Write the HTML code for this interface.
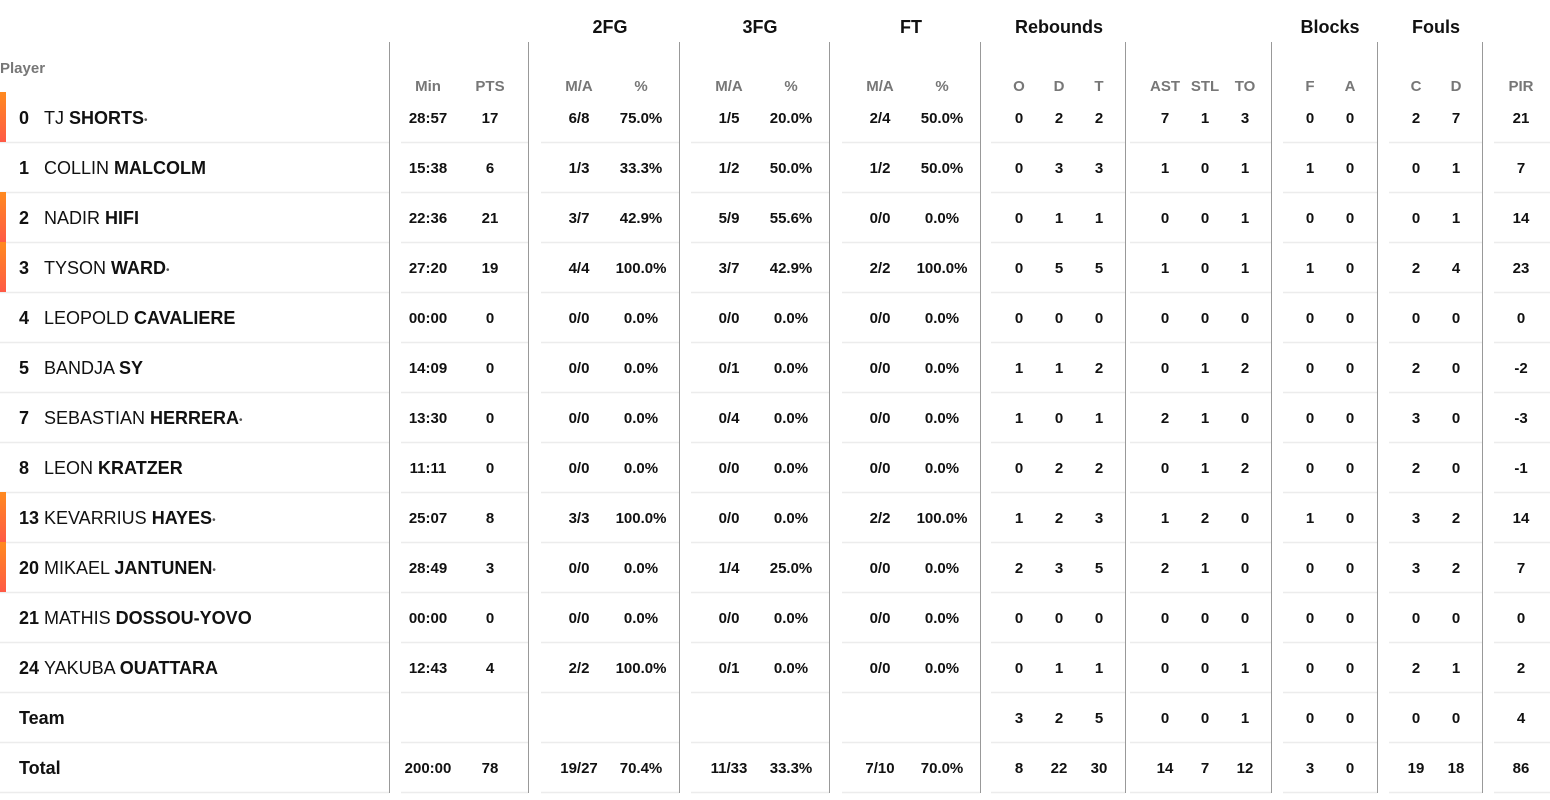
<!DOCTYPE html>
<html><head><meta charset="utf-8"><style>
body{margin:0;width:1550px;height:800px;background:#fff;font-family:"Liberation Sans",sans-serif;color:#111;position:relative;overflow:hidden}
.a{position:absolute}
.gh{position:absolute;top:17px;font-size:18px;font-weight:bold;transform:translateX(-50%);white-space:nowrap}
.sh{position:absolute;top:78px;font-size:15px;font-weight:bold;color:#777;transform:translateX(-50%)}
.r{position:absolute;left:0;width:1550px;height:50px;line-height:54px;font-size:15px;font-weight:bold}
.r span{position:absolute;transform:translateX(-50%);white-space:nowrap}
.r .n{left:19px;transform:none;font-size:18px;line-height:52px}
.r .nm{left:44px;transform:none;font-size:18px;font-weight:normal;line-height:52px}
.r .nm b{font-weight:bold}
.bar{position:absolute;left:0;top:0;width:6px;height:50px;background:linear-gradient(#ff8a1f,#ff5a45)}
.m{left:428px}.p{left:490px}.a1{left:579px}.b1{left:641px}.c1{left:729px}.d1{left:791px}.e1{left:880px}.f1{left:942px}
.o{left:1019px}.rd{left:1059px}.t{left:1099px}.as{left:1165px}.st{left:1205px}.to{left:1245px}.bf{left:1310px}.ba{left:1350px}.fc{left:1416px}.fd{left:1456px}.pi{left:1521px}
sup{font-size:10px;color:#555;vertical-align:1px}
</style></head><body>
<svg class="a" style="left:0;top:0" width="1550" height="800">
<g stroke="#ececec" stroke-width="1.5" stroke-dasharray="389 12 127 13 138 12 138 13 138 11 134 5 141 12 94 12 93 12 60">
<line x1="0" x2="1550" y1="142.5" y2="142.5"/><line x1="0" x2="1550" y1="192.5" y2="192.5"/><line x1="0" x2="1550" y1="242.5" y2="242.5"/><line x1="0" x2="1550" y1="292.5" y2="292.5"/><line x1="0" x2="1550" y1="342.5" y2="342.5"/><line x1="0" x2="1550" y1="392.5" y2="392.5"/><line x1="0" x2="1550" y1="442.5" y2="442.5"/><line x1="0" x2="1550" y1="492.5" y2="492.5"/><line x1="0" x2="1550" y1="542.5" y2="542.5"/><line x1="0" x2="1550" y1="592.5" y2="592.5"/><line x1="0" x2="1550" y1="642.5" y2="642.5"/><line x1="0" x2="1550" y1="692.5" y2="692.5"/><line x1="0" x2="1550" y1="742.5" y2="742.5"/><line x1="0" x2="1550" y1="792.5" y2="792.5"/>
</g>
<g stroke="#999" stroke-width="1">
<line x1="389.5" x2="389.5" y1="42" y2="793"/><line x1="528.5" x2="528.5" y1="42" y2="793"/><line x1="679.5" x2="679.5" y1="42" y2="793"/><line x1="829.5" x2="829.5" y1="42" y2="793"/><line x1="980.5" x2="980.5" y1="42" y2="793"/><line x1="1125.5" x2="1125.5" y1="42" y2="793"/><line x1="1271.5" x2="1271.5" y1="42" y2="793"/><line x1="1377.5" x2="1377.5" y1="42" y2="793"/><line x1="1482.5" x2="1482.5" y1="42" y2="793"/>
</g></svg>
<div class="gh" style="left:610px">2FG</div><div class="gh" style="left:760px">3FG</div><div class="gh" style="left:911px">FT</div><div class="gh" style="left:1059px">Rebounds</div><div class="gh" style="left:1330px">Blocks</div><div class="gh" style="left:1436px">Fouls</div>
<div class="a" style="left:0;top:60px;font-size:15px;font-weight:bold;color:#777">Player</div>
<div class="sh m">Min</div><div class="sh p">PTS</div><div class="sh a1">M/A</div><div class="sh b1">%</div><div class="sh c1">M/A</div><div class="sh d1">%</div><div class="sh e1">M/A</div><div class="sh f1">%</div><div class="sh o">O</div><div class="sh rd">D</div><div class="sh t">T</div><div class="sh as">AST</div><div class="sh st">STL</div><div class="sh to">TO</div><div class="sh bf">F</div><div class="sh ba">A</div><div class="sh fc">C</div><div class="sh fd">D</div><div class="sh pi">PIR</div>

<div class="r" style="top:92px"><div class="bar"></div><span class="n">0</span><span class="nm">TJ <b>SHORTS</b><sup>•</sup></span><span class="m">28:57</span><span class="p">17</span><span class="a1">6/8</span><span class="b1">75.0%</span><span class="c1">1/5</span><span class="d1">20.0%</span><span class="e1">2/4</span><span class="f1">50.0%</span><span class="o">0</span><span class="rd">2</span><span class="t">2</span><span class="as">7</span><span class="st">1</span><span class="to">3</span><span class="bf">0</span><span class="ba">0</span><span class="fc">2</span><span class="fd">7</span><span class="pi">21</span></div>
<div class="r" style="top:142px"><span class="n">1</span><span class="nm">COLLIN <b>MALCOLM</b></span><span class="m">15:38</span><span class="p">6</span><span class="a1">1/3</span><span class="b1">33.3%</span><span class="c1">1/2</span><span class="d1">50.0%</span><span class="e1">1/2</span><span class="f1">50.0%</span><span class="o">0</span><span class="rd">3</span><span class="t">3</span><span class="as">1</span><span class="st">0</span><span class="to">1</span><span class="bf">1</span><span class="ba">0</span><span class="fc">0</span><span class="fd">1</span><span class="pi">7</span></div>
<div class="r" style="top:192px"><div class="bar"></div><span class="n">2</span><span class="nm">NADIR <b>HIFI</b></span><span class="m">22:36</span><span class="p">21</span><span class="a1">3/7</span><span class="b1">42.9%</span><span class="c1">5/9</span><span class="d1">55.6%</span><span class="e1">0/0</span><span class="f1">0.0%</span><span class="o">0</span><span class="rd">1</span><span class="t">1</span><span class="as">0</span><span class="st">0</span><span class="to">1</span><span class="bf">0</span><span class="ba">0</span><span class="fc">0</span><span class="fd">1</span><span class="pi">14</span></div>
<div class="r" style="top:242px"><div class="bar"></div><span class="n">3</span><span class="nm">TYSON <b>WARD</b><sup>•</sup></span><span class="m">27:20</span><span class="p">19</span><span class="a1">4/4</span><span class="b1">100.0%</span><span class="c1">3/7</span><span class="d1">42.9%</span><span class="e1">2/2</span><span class="f1">100.0%</span><span class="o">0</span><span class="rd">5</span><span class="t">5</span><span class="as">1</span><span class="st">0</span><span class="to">1</span><span class="bf">1</span><span class="ba">0</span><span class="fc">2</span><span class="fd">4</span><span class="pi">23</span></div>
<div class="r" style="top:292px"><span class="n">4</span><span class="nm">LEOPOLD <b>CAVALIERE</b></span><span class="m">00:00</span><span class="p">0</span><span class="a1">0/0</span><span class="b1">0.0%</span><span class="c1">0/0</span><span class="d1">0.0%</span><span class="e1">0/0</span><span class="f1">0.0%</span><span class="o">0</span><span class="rd">0</span><span class="t">0</span><span class="as">0</span><span class="st">0</span><span class="to">0</span><span class="bf">0</span><span class="ba">0</span><span class="fc">0</span><span class="fd">0</span><span class="pi">0</span></div>
<div class="r" style="top:342px"><span class="n">5</span><span class="nm">BANDJA <b>SY</b></span><span class="m">14:09</span><span class="p">0</span><span class="a1">0/0</span><span class="b1">0.0%</span><span class="c1">0/1</span><span class="d1">0.0%</span><span class="e1">0/0</span><span class="f1">0.0%</span><span class="o">1</span><span class="rd">1</span><span class="t">2</span><span class="as">0</span><span class="st">1</span><span class="to">2</span><span class="bf">0</span><span class="ba">0</span><span class="fc">2</span><span class="fd">0</span><span class="pi">-2</span></div>
<div class="r" style="top:392px"><span class="n">7</span><span class="nm">SEBASTIAN <b>HERRERA</b><sup>•</sup></span><span class="m">13:30</span><span class="p">0</span><span class="a1">0/0</span><span class="b1">0.0%</span><span class="c1">0/4</span><span class="d1">0.0%</span><span class="e1">0/0</span><span class="f1">0.0%</span><span class="o">1</span><span class="rd">0</span><span class="t">1</span><span class="as">2</span><span class="st">1</span><span class="to">0</span><span class="bf">0</span><span class="ba">0</span><span class="fc">3</span><span class="fd">0</span><span class="pi">-3</span></div>
<div class="r" style="top:442px"><span class="n">8</span><span class="nm">LEON <b>KRATZER</b></span><span class="m">11:11</span><span class="p">0</span><span class="a1">0/0</span><span class="b1">0.0%</span><span class="c1">0/0</span><span class="d1">0.0%</span><span class="e1">0/0</span><span class="f1">0.0%</span><span class="o">0</span><span class="rd">2</span><span class="t">2</span><span class="as">0</span><span class="st">1</span><span class="to">2</span><span class="bf">0</span><span class="ba">0</span><span class="fc">2</span><span class="fd">0</span><span class="pi">-1</span></div>
<div class="r" style="top:492px"><div class="bar"></div><span class="n">13</span><span class="nm">KEVARRIUS <b>HAYES</b><sup>•</sup></span><span class="m">25:07</span><span class="p">8</span><span class="a1">3/3</span><span class="b1">100.0%</span><span class="c1">0/0</span><span class="d1">0.0%</span><span class="e1">2/2</span><span class="f1">100.0%</span><span class="o">1</span><span class="rd">2</span><span class="t">3</span><span class="as">1</span><span class="st">2</span><span class="to">0</span><span class="bf">1</span><span class="ba">0</span><span class="fc">3</span><span class="fd">2</span><span class="pi">14</span></div>
<div class="r" style="top:542px"><div class="bar"></div><span class="n">20</span><span class="nm">MIKAEL <b>JANTUNEN</b><sup>•</sup></span><span class="m">28:49</span><span class="p">3</span><span class="a1">0/0</span><span class="b1">0.0%</span><span class="c1">1/4</span><span class="d1">25.0%</span><span class="e1">0/0</span><span class="f1">0.0%</span><span class="o">2</span><span class="rd">3</span><span class="t">5</span><span class="as">2</span><span class="st">1</span><span class="to">0</span><span class="bf">0</span><span class="ba">0</span><span class="fc">3</span><span class="fd">2</span><span class="pi">7</span></div>
<div class="r" style="top:592px"><span class="n">21</span><span class="nm">MATHIS <b>DOSSOU-YOVO</b></span><span class="m">00:00</span><span class="p">0</span><span class="a1">0/0</span><span class="b1">0.0%</span><span class="c1">0/0</span><span class="d1">0.0%</span><span class="e1">0/0</span><span class="f1">0.0%</span><span class="o">0</span><span class="rd">0</span><span class="t">0</span><span class="as">0</span><span class="st">0</span><span class="to">0</span><span class="bf">0</span><span class="ba">0</span><span class="fc">0</span><span class="fd">0</span><span class="pi">0</span></div>
<div class="r" style="top:642px"><span class="n">24</span><span class="nm">YAKUBA <b>OUATTARA</b></span><span class="m">12:43</span><span class="p">4</span><span class="a1">2/2</span><span class="b1">100.0%</span><span class="c1">0/1</span><span class="d1">0.0%</span><span class="e1">0/0</span><span class="f1">0.0%</span><span class="o">0</span><span class="rd">1</span><span class="t">1</span><span class="as">0</span><span class="st">0</span><span class="to">1</span><span class="bf">0</span><span class="ba">0</span><span class="fc">2</span><span class="fd">1</span><span class="pi">2</span></div>
<div class="r" style="top:692px"><span class="n">Team</span><span class="o">3</span><span class="rd">2</span><span class="t">5</span><span class="as">0</span><span class="st">0</span><span class="to">1</span><span class="bf">0</span><span class="ba">0</span><span class="fc">0</span><span class="fd">0</span><span class="pi">4</span></div>
<div class="r" style="top:742px"><span class="n">Total</span><span class="m">200:00</span><span class="p">78</span><span class="a1">19/27</span><span class="b1">70.4%</span><span class="c1">11/33</span><span class="d1">33.3%</span><span class="e1">7/10</span><span class="f1">70.0%</span><span class="o">8</span><span class="rd">22</span><span class="t">30</span><span class="as">14</span><span class="st">7</span><span class="to">12</span><span class="bf">3</span><span class="ba">0</span><span class="fc">19</span><span class="fd">18</span><span class="pi">86</span></div>
</body></html>
